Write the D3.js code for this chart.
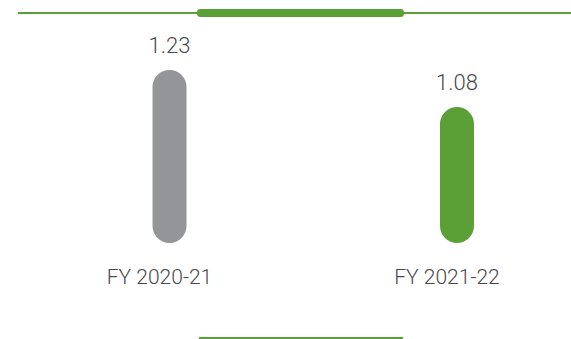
<!DOCTYPE html>
<html>
<head>
<meta charset="utf-8">
<script src="https://cdn.jsdelivr.net/npm/d3@7"></script>
<style>
  html, body { margin: 0; padding: 0; background: #ffffff; }
  svg { display: block; }
</style>
</head>
<body>
<svg id="chart" width="571" height="339"></svg>
<script>
// Fiscal years and their values
const categories = ["FY 2020-21", "FY 2021-22"];
const values = [1.23, 1.08];
const valueLabels = ["1.23", "1.08"];
const barColors = ["#939598", "#5b9f37"];

const width = 571, height = 339;
const green = "#5b9f37";
const textColor = "#4a4a4a";

const svg = d3.select("#chart");

// Scales
const x = d3.scalePoint().domain(categories).range([169.5, 457]);
const y = d3.scaleLinear().domain([0.53, 1.23]).range([243, 70]);
const barWidth = 34;

// Decorative rule at the top with a thicker centre segment
svg.append("line")
  .attr("x1", 18).attr("x2", width)
  .attr("y1", 13).attr("y2", 13)
  .attr("stroke", green).attr("stroke-width", 2);
svg.append("rect")
  .attr("x", 197).attr("y", 9)
  .attr("width", 207).attr("height", 8)
  .attr("rx", 3.5)
  .attr("fill", green);

// Rounded bars
svg.selectAll("rect.bar")
  .data(values)
  .join("rect")
  .attr("class", "bar")
  .attr("x", (d, i) => x(categories[i]) - barWidth / 2)
  .attr("y", d => y(d))
  .attr("width", barWidth)
  .attr("height", d => y.range()[0] - y(d))
  .attr("rx", barWidth / 2)
  .attr("fill", (d, i) => barColors[i]);

// Value labels above bars
svg.selectAll("text.value")
  .data(values)
  .join("text")
  .attr("class", "value")
  .attr("x", (d, i) => x(categories[i]))
  .attr("y", d => y(d) - 17)
  .attr("text-anchor", "middle")
  .attr("font-family", "Roboto, sans-serif")
  .attr("font-weight", 300)
  .attr("font-size", 22)
  .attr("fill", textColor)
  .text((d, i) => valueLabels[i]);

// Category labels under bars
svg.selectAll("text.cat")
  .data(categories)
  .join("text")
  .attr("class", "cat")
  .attr("x", d => x(d) - 10)
  .attr("y", 284)
  .attr("text-anchor", "middle")
  .attr("font-family", "Roboto, sans-serif")
  .attr("font-weight", 300)
  .attr("font-size", 21)
  .attr("fill", textColor)
  .text(d => d);

// Rule at the bottom
svg.append("line")
  .attr("x1", 199).attr("x2", 403)
  .attr("y1", 338).attr("y2", 338)
  .attr("stroke", green).attr("stroke-width", 2);
</script>
</body>
</html>
